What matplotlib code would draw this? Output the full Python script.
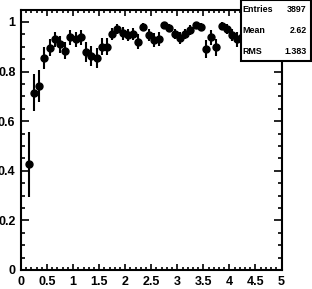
import matplotlib
matplotlib.use("Agg")
import matplotlib.pyplot as plt
from matplotlib.ticker import MultipleLocator, FuncFormatter
from matplotlib.patches import Rectangle

# bin centres (0.1 wide bins) and contents
x = [0.15, 0.25, 0.35, 0.45, 0.55, 0.65, 0.75, 0.85, 0.95, 1.05,
     1.15, 1.25, 1.35, 1.45, 1.55, 1.65, 1.75, 1.85, 1.95, 2.05,
     2.15, 2.25, 2.35, 2.45, 2.55, 2.65, 2.75, 2.85, 2.95, 3.05,
     3.15, 3.25, 3.35, 3.45, 3.55, 3.65, 3.75, 3.85, 3.95, 4.05,
     4.15, 4.25]
y = [0.426, 0.715, 0.742, 0.856, 0.896, 0.930, 0.910, 0.884, 0.938, 0.930,
     0.938, 0.879, 0.863, 0.856, 0.900, 0.900, 0.952, 0.972, 0.954, 0.948,
     0.952, 0.920, 0.979, 0.948, 0.927, 0.931, 0.988, 0.975, 0.952, 0.934,
     0.952, 0.968, 0.988, 0.979, 0.891, 0.938, 0.898, 0.984, 0.972, 0.948,
     0.930, 0.940]
yerr = [0.130, 0.075, 0.065, 0.044, 0.035, 0.030, 0.035, 0.035, 0.030, 0.030,
        0.030, 0.040, 0.040, 0.040, 0.035, 0.035, 0.025, 0.020, 0.025, 0.025,
        0.025, 0.030, 0.015, 0.025, 0.030, 0.030, 0.012, 0.015, 0.020, 0.025,
        0.020, 0.020, 0.012, 0.015, 0.035, 0.030, 0.035, 0.015, 0.020, 0.025,
        0.030, 0.030]

stat_names = ["Entries", "Mean", "RMS"]
stat_values = ["3897", "2.62", "1.383"]

plt.rcParams['font.family'] = ['Liberation Sans', 'DejaVu Sans']
plt.rcParams['font.weight'] = 'bold'

W, H = 312, 289
fig = plt.figure(figsize=(W / 100, H / 100), dpi=100)
ax = fig.add_axes([21 / W, 1 - 270 / H, 260.5 / W, 260.5 / H])

ax.errorbar(x, y, yerr=yerr, fmt='o', color='black', markersize=5,
            elinewidth=1.5, capsize=0)

ax.set_xlim(0, 5)
ax.set_ylim(0, 1.05)
ax.xaxis.set_major_locator(MultipleLocator(0.5))
ax.xaxis.set_minor_locator(MultipleLocator(0.1))
ax.yaxis.set_major_locator(MultipleLocator(0.2))
ax.yaxis.set_minor_locator(MultipleLocator(0.05))
fmt = FuncFormatter(lambda v, p: f"{v:g}")
ax.xaxis.set_major_formatter(fmt)
ax.yaxis.set_major_formatter(fmt)

ax.tick_params(which='both', direction='in', top=True, right=True,
               labelsize=9, width=1.2, pad=4)
ax.tick_params(axis='y', which='major', length=5.8)
ax.tick_params(axis='y', which='minor', length=2.9)
ax.tick_params(axis='x', which='major', length=4.3)
ax.tick_params(axis='x', which='minor', length=2.2)
for lab in ax.get_xticklabels() + ax.get_yticklabels():
    lab.set_fontweight('bold')
for s in ax.spines.values():
    s.set_linewidth(1.5)

# stats box
bx0, by0, bx1, by1 = 240.5, 60.5, 310.5, 0
fig.add_artist(Rectangle((bx0 / W, 1 - by0 / H), (bx1 - bx0) / W, (by0 - by1) / H,
                         transform=fig.transFigure, facecolor='white',
                         edgecolor='black', linewidth=1.5, zorder=10))
rows = [9.3, 30.7, 51.7]
for name, val, ry in zip(stat_names, stat_values, rows):
    fig.text(242.7 / W, 1 - ry / H, name, fontsize=6.4, fontweight='bold',
             ha='left', va='center', zorder=11)
    fig.text(306.5 / W, 1 - ry / H, val, fontsize=6.4, fontweight='bold',
             ha='right', va='center', zorder=11)

fig.savefig("out.png", dpi=100)
